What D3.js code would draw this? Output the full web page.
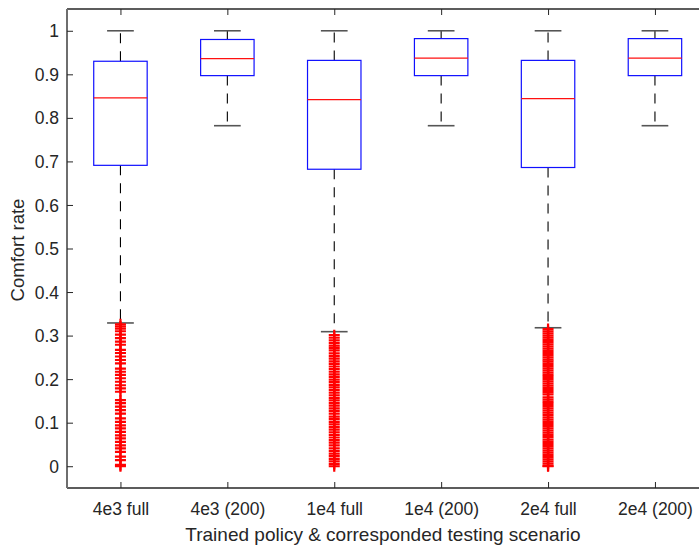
<!DOCTYPE html>
<html>
<head>
<meta charset="utf-8">
<script src="https://cdn.jsdelivr.net/npm/d3@7/dist/d3.min.js"></script>
<style>
  html, body { margin: 0; padding: 0; background: #fff; }
  svg { display: block; }
  text { font-family: "Liberation Sans", Arial, Helvetica, sans-serif; fill: #262626; }
</style>
</head>
<body>
<svg id="chart" width="699" height="549"></svg>
<script>
// Scenario names along the x axis
const categories = ["4e3 full", "4e3 (200)", "1e4 full", "1e4 (200)", "2e4 full", "2e4 (200)"];

// Box statistics per scenario
const q1 = [0.691, 0.897, 0.682, 0.897, 0.686, 0.897];
const medians = [0.846, 0.936, 0.842, 0.937, 0.844, 0.937];
const q3 = [0.930, 0.980, 0.932, 0.982, 0.932, 0.982];
const whiskerLow = [0.329, 0.782, 0.309, 0.782, 0.318, 0.782];
const whiskerHigh = [1.0, 1.0, 1.0, 1.0, 1.0, 1.0];

// Outliers (only the "full" scenarios have any)
const outliers4e3 = [0.326, 0.321, 0.316, 0.310, 0.302, 0.294, 0.286, 0.279, 0.267, 0.260,
  0.252, 0.244, 0.236, 0.224, 0.217, 0.210, 0.202, 0.194, 0.186, 0.179, 0.171, 0.152,
  0.145, 0.137, 0.129, 0.121, 0.110, 0.102, 0.094, 0.087, 0.079, 0.071, 0.064, 0.056,
  0.048, 0.041, 0.033, 0.022, 0.014, 0.003, 0.0];
const outliers1e4 = [0.301, 0.295, 0.289, 0.283, 0.277, 0.272, 0.266, 0.259, 0.253, 0.247,
  0.241, 0.235, 0.229, 0.223, 0.217, 0.211, 0.205, 0.199, 0.193, 0.187, 0.181, 0.175,
  0.169, 0.163, 0.157, 0.151, 0.145, 0.139, 0.133, 0.127, 0.121, 0.114, 0.108, 0.102,
  0.096, 0.090, 0.084, 0.078, 0.072, 0.066, 0.060, 0.054, 0.048, 0.041, 0.035, 0.029,
  0.023, 0.017, 0.011, 0.005, 0.0];
const outliers2e4 = [0.315, 0.310, 0.305, 0.300, 0.295, 0.290, 0.285, 0.280, 0.275, 0.270,
  0.265, 0.260, 0.255, 0.250, 0.245, 0.240, 0.235, 0.230, 0.225, 0.220, 0.215, 0.210,
  0.205, 0.200, 0.195, 0.190, 0.185, 0.180, 0.175, 0.170, 0.165, 0.158, 0.153, 0.148,
  0.143, 0.138, 0.133, 0.128, 0.123, 0.118, 0.112, 0.107, 0.102, 0.097, 0.092, 0.087,
  0.082, 0.077, 0.072, 0.067, 0.061, 0.056, 0.051, 0.046, 0.041, 0.036, 0.031, 0.026,
  0.021, 0.016, 0.011, 0.006, 0.001, 0.0];
const outliers = [outliers4e3, [], outliers1e4, [], outliers2e4, []];

// Y tick values and labels
const yTicks = [0, 0.1, 0.2, 0.3, 0.4, 0.5, 0.6, 0.7, 0.8, 0.9, 1];
const yTickLabels = ["0", "0.1", "0.2", "0.3", "0.4", "0.5", "0.6", "0.7", "0.8", "0.9", "1"];

const xLabel = "Trained policy & corresponded testing scenario";
const yLabel = "Comfort rate";

const svg = d3.select("#chart");
const plot = { left: 67, top: 9, bottom: 488, right: 708.4 };

const x = d3.scaleLinear().domain([0.5, categories.length + 0.5]).range([plot.left, plot.right]);
const y = d3.scaleLinear().domain([-0.05, 1.05]).range([plot.bottom, plot.top]);

const boxW = x(1.25) - x(1);     // half box width
const capW = x(1.125) - x(1);    // half whisker cap width

const boxes = categories.map((c, i) => ({
  pos: i + 1, q1: q1[i], med: medians[i], q3: q3[i],
  lo: whiskerLow[i], hi: whiskerHigh[i], out: outliers[i]
}));

const g = svg.append("g");

// Dashed whiskers
g.selectAll(".wh-up").data(boxes).join("line")
  .attr("x1", d => x(d.pos)).attr("x2", d => x(d.pos))
  .attr("y1", d => y(d.q3)).attr("y2", d => y(d.hi))
  .attr("stroke", "#000").attr("stroke-width", 1.1).attr("stroke-dasharray", "10,8");
g.selectAll(".wh-lo").data(boxes).join("line")
  .attr("x1", d => x(d.pos)).attr("x2", d => x(d.pos))
  .attr("y1", d => y(d.q1)).attr("y2", d => y(d.lo))
  .attr("stroke", "#000").attr("stroke-width", 1.1).attr("stroke-dasharray", "10,8");

// Whisker caps
["hi", "lo"].forEach(k => {
  g.selectAll(".cap-" + k).data(boxes).join("line")
    .attr("x1", d => x(d.pos) - capW).attr("x2", d => x(d.pos) + capW)
    .attr("y1", d => y(d[k])).attr("y2", d => y(d[k]))
    .attr("stroke", "#555").attr("stroke-width", 1.6);
});

// Boxes
g.selectAll(".box").data(boxes).join("rect")
  .attr("x", d => x(d.pos) - boxW).attr("width", boxW * 2)
  .attr("y", d => y(d.q3)).attr("height", d => y(d.q1) - y(d.q3))
  .attr("fill", "none").attr("stroke", "#1010ff").attr("stroke-width", 1.2);

// Medians
g.selectAll(".med").data(boxes).join("line")
  .attr("x1", d => x(d.pos) - boxW).attr("x2", d => x(d.pos) + boxW)
  .attr("y1", d => y(d.med)).attr("y2", d => y(d.med))
  .attr("stroke", "#ff1010").attr("stroke-width", 1.2);

// Outlier "+" markers
const pts = boxes.flatMap(d => d.out.map(v => ({ pos: d.pos, v })));
const half = 5.5;
g.selectAll(".out").data(pts).join("path")
  .attr("d", d => {
    const cx = x(d.pos), cy = y(d.v);
    return `M${cx - half},${cy}H${cx + half}M${cx},${cy - half}V${cy + half}`;
  })
  .attr("stroke", "#ff0000").attr("stroke-width", 2.2).attr("fill", "none");

// Axes frame
const axisDark = "#262626";
svg.append("line").attr("x1", plot.left).attr("x2", plot.right)
  .attr("y1", plot.bottom).attr("y2", plot.bottom).attr("stroke", axisDark).attr("stroke-width", 1.3);
svg.append("line").attr("x1", plot.left).attr("x2", plot.right)
  .attr("y1", plot.top).attr("y2", plot.top).attr("stroke", axisDark).attr("stroke-width", 1.3);
svg.append("line").attr("x1", plot.left).attr("x2", plot.left)
  .attr("y1", plot.top).attr("y2", plot.bottom).attr("stroke", "#6e6e6e").attr("stroke-width", 2);

// Y ticks (inward) and labels
const yAxis = d3.axisLeft(y).tickValues(yTicks).tickSizeInner(-6).tickSizeOuter(0)
  .tickFormat((d, i) => yTickLabels[i]);
const ya = svg.append("g").attr("transform", `translate(${plot.left},0)`).call(yAxis);
ya.select(".domain").remove();
ya.selectAll(".tick line").attr("stroke", axisDark).attr("stroke-width", 1);
ya.selectAll(".tick text").attr("font-size", 17.5).attr("fill", axisDark)
  .attr("font-family", "'Liberation Sans', Arial, sans-serif").attr("x", -8).attr("dy", "0.35em");

// X ticks (inward, bottom and top) and labels
const xAxis = d3.axisBottom(x).tickValues(d3.range(1, categories.length + 1))
  .tickSizeInner(-6).tickSizeOuter(0).tickFormat((d, i) => categories[i]);
const xa = svg.append("g").attr("transform", `translate(0,${plot.bottom})`).call(xAxis);
xa.select(".domain").remove();
xa.selectAll(".tick line").attr("stroke", axisDark).attr("stroke-width", 1);
xa.selectAll(".tick text").attr("font-size", 17.5).attr("fill", axisDark)
  .attr("font-family", "'Liberation Sans', Arial, sans-serif").attr("y", 15).attr("dy", "0.71em");

const xTop = d3.axisTop(x).tickValues(d3.range(1, categories.length + 1))
  .tickSizeInner(-6).tickSizeOuter(0).tickFormat("");
const xt = svg.append("g").attr("transform", `translate(0,${plot.top})`).call(xTop);
xt.select(".domain").remove();
xt.selectAll(".tick line").attr("stroke", axisDark).attr("stroke-width", 1);

// Axis titles
svg.append("text").attr("x", 383).attr("y", 541)
  .attr("text-anchor", "middle").attr("font-size", 19).text(xLabel);
svg.append("text").attr("transform", `translate(24,250) rotate(-90)`)
  .attr("text-anchor", "middle").attr("font-size", 18.5).text(yLabel);
</script>
</body>
</html>
